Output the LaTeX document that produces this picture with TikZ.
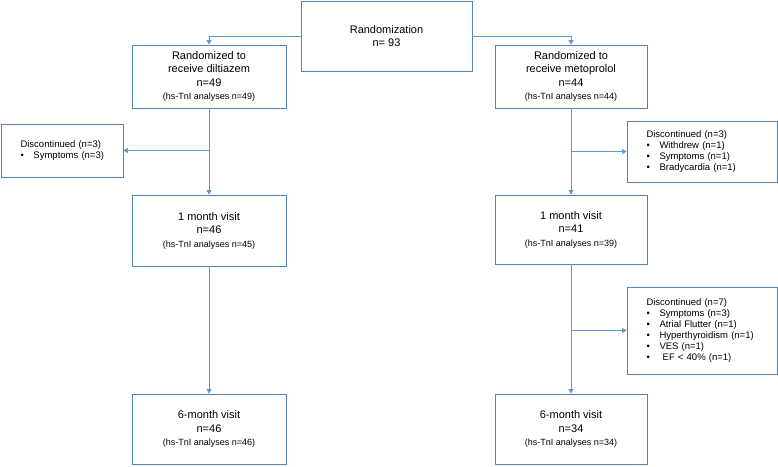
\documentclass[tikz,border=0pt]{standalone}
\usepackage{fontspec}
\setmainfont{Liberation Sans}
\usetikzlibrary{arrows.meta,positioning}

\definecolor{boxblue}{RGB}{84,130,188}
\definecolor{lineblue}{RGB}{91,155,213}

% 条目符号
\newcommand{\bul}[1]{\mbox{\makebox[13pt][l]{\textbullet}#1}}
% 括号内小字
\newcommand{\tni}[1]{{\fontsize{9}{10}\selectfont (hs-TnI analyses n=#1)}}

\tikzset{
  box/.style={draw=boxblue, line width=0.8pt, align=center, inner sep=0pt,
    font=\fontsize{11}{13.5}\selectfont},
  dropbox/.style={draw=boxblue, line width=0.8pt, align=left, inner xsep=19.5pt,
    inner ysep=0pt, font=\fontsize{9.5}{11}\selectfont},
  flow/.style={draw=lineblue, line width=0.8pt, -{Triangle[width=5pt,length=4.5pt]}}
}

\begin{document}
\begin{tikzpicture}[x=1pt,y=-1pt]
    % 画布范围
    \useasboundingbox (0,0) rectangle (778,466);
    % 随机分组
    \node[box, minimum width=171pt, minimum height=70pt] (rand) at (386.5,36)
      {Randomization\\n= 93};
    % 两组起点
    \node[box, minimum width=154pt, minimum height=63pt] (dil) at (209,76.5)
      {Randomized to\\receive diltiazem\\n=49\\\tni{49}};
    \node[box, minimum width=152pt, minimum height=63pt] (met) at (571,76.5)
      {Randomized to\\receive metoprolol\\n=44\\\tni{44}};
    % 1个月随访
    \node[box, minimum width=154pt, minimum height=71pt] (dilA) at (209,230.5)
      {1 month visit\\n=46\\\tni{45}};
    \node[box, minimum width=152pt, minimum height=69pt] (metA) at (571,229.5)
      {1 month visit\\n=41\\\tni{39}};
    % 6个月随访
    \node[box, minimum width=154pt, minimum height=70pt] (dilB) at (209,429)
      {6-month visit\\n=46\\\tni{46}};
    \node[box, minimum width=152pt, minimum height=70pt] (metB) at (571,429)
      {6-month visit\\n=34\\\tni{34}};
    % 退出病例
    \node[dropbox, text width=83pt, minimum height=53pt] (dropA) at (62,150.5)
      {Discontinued (n=3)\\\bul{Symptoms (n=3)}};
    \node[dropbox, text width=111pt, minimum height=61pt] (dropB) at (702,151.5)
      {Discontinued (n=3)\\\bul{Withdrew (n=1)}\\\bul{Symptoms (n=1)}\\\bul{Bradycardia (n=1)}};
    \node[dropbox, text width=111pt, minimum height=87pt] (dropC) at (702,330.5)
      {Discontinued (n=7)\\\bul{Symptoms (n=3)}\\\bul{Atrial Flutter (n=1)}\\\bul{Hyperthyroidism (n=1)}\\\bul{VES (n=1)}\\\bul{\ EF < 40\% (n=1)}};

    % 分组箭头
    \draw[flow] (rand.west) -| (dil.north);
    \draw[flow] (rand.east) -| (met.north);
    % 纵向箭头
    \draw[flow] (dil.south) -- (dilA.north);
    \draw[flow] (dilA.south) -- (dilB.north);
    \draw[flow] (met.south) -- (metA.north);
    \draw[flow] (metA.south) -- (metB.north);
    % 侧向箭头
    \draw[flow] (dil.south |- dropA.east) -- (dropA.east);
    \draw[flow] (met.south |- dropB.west) -- (dropB.west);
    \draw[flow] (metA.south |- dropC.west) -- (dropC.west);
\end{tikzpicture}
\end{document}
